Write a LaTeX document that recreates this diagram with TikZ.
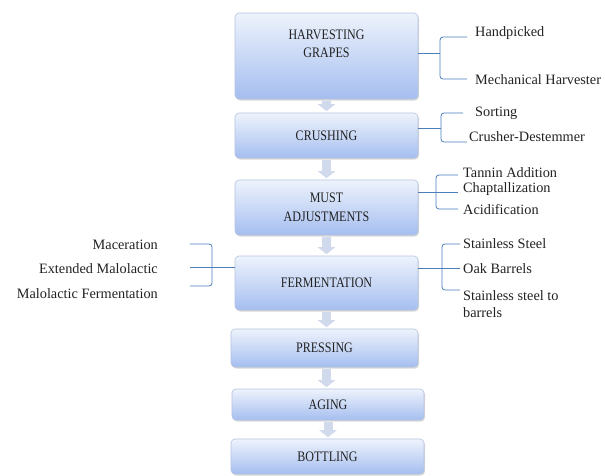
\documentclass[tikz,border=0pt]{standalone}
\usepackage{fontspec}
\setmainfont{Liberation Serif}
\newfontfamily\boxfont[FakeStretch=0.83]{Liberation Serif}
\usetikzlibrary{shadows,arrows.meta}
\definecolor{boxtop}{HTML}{EEF3FC}
\definecolor{boxbot}{HTML}{A5BEF0}
\definecolor{boxline}{HTML}{B4C3DE}
\definecolor{brline}{HTML}{4A7EBB}
\definecolor{arrfill}{HTML}{D0DAEC}
\definecolor{txt}{HTML}{222222}
\begin{document}
\begin{tikzpicture}[x=1pt,y=-1pt,
  stage/.style={rectangle, rounded corners=4pt, draw=boxline, line width=0.6pt,
    top color=boxtop, bottom color=boxbot,
    drop shadow={shadow xshift=1pt, shadow yshift=-1.5pt, opacity=0.3, fill=gray},
    font=\boxfont\fontsize{14.5}{18.5}\selectfont, text=txt, align=center, inner sep=0pt},
  stagetext/.style={font=\boxfont\fontsize{14.5}{18.5}\selectfont, text=txt, align=center, inner sep=0pt},
  lab/.style={font=\fontsize{14.3}{17}\selectfont, text=txt, inner sep=0pt, align=left},
  br/.style={draw=brline, line width=0.8pt, rounded corners=3pt},
  flow/.style={draw=arrfill, line width=9pt, -{Triangle[width=17pt,length=7pt]},
    shorten <=2pt, shorten >=1.5pt}]
\useasboundingbox (0,0) rectangle (605,475);
\fill[white] (0,0) rectangle (605,475);

% stages
\node[stage, minimum width=183pt, minimum height=86pt] (h) at (326.5,56) {};
\node[stagetext] (ht) at (326.5,44) {HARVESTING\\GRAPES};
\node[stage, minimum width=183pt, minimum height=45pt] (c) at (326.5,135.5) {CRUSHING};
\node[stage, minimum width=183pt, minimum height=55pt] (m) at (326.5,207.5) {MUST\\ADJUSTMENTS};
\node[stage, minimum width=183pt, minimum height=54pt] (f) at (326.5,283) {FERMENTATION};
\node[stage, minimum width=187pt, minimum height=38pt] (p) at (324.5,348) {PRESSING};
\node[stage, minimum width=192pt, minimum height=31pt] (a) at (328,404.5) {AGING};
\node[stage, minimum width=193pt, minimum height=35pt] (b) at (327.5,456.5) {BOTTLING};

% flow arrows
\draw[flow] (h.south) -- (h.south |- c.north);
\draw[flow] (c.south) -- (c.south |- m.north);
\draw[flow] (m.south) -- (m.south |- f.north);
\draw[flow] (f.south) -- (f.south |- p.north);
\draw[flow] ([xshift=2pt]p.south) -- ([xshift=2pt]p.south |- a.north);
\draw[flow] (a.south) -- (a.south |- b.north);

% right labels
\node[lab, anchor=west] (hp) at (475,33) {Handpicked};
\node[lab, anchor=west] (mh) at (475,80) {Mechanical Harvester};
\node[lab, anchor=west] (so) at (475,113) {Sorting};
\node[lab, anchor=west] (cd) at (469,137) {Crusher-Destemmer};
\node[lab, anchor=west] (ta) at (463,173) {Tannin Addition};
\node[lab, anchor=west] (chp) at (463,189) {Chaptallization};
\node[lab, anchor=west] (ac) at (463,210) {Acidification};
\node[lab, anchor=west] (ss) at (463,244) {Stainless Steel};
\node[lab, anchor=west] (ob) at (463,269) {Oak Barrels};
\node[lab, anchor=west] (sb) at (463,304.5) {Stainless steel to\\barrels};

% left labels
\node[lab, anchor=east] (mc) at (158,245) {Maceration};
\node[lab, anchor=east] (em) at (158,269) {Extended Malolactic};
\node[lab, anchor=east] (mf) at (158,294) {Malolactic Fermentation};

% brackets
\coordinate (h1) at (440,53);
\draw[br] (h.east |- h1) -- (h1);
\draw[br] (467,37) -- (440,37) -- (440,79) -- (467,79);

\coordinate (c1) at (441,128);
\draw[br] (c.east |- c1) -- (c1);
\draw[br] (463,113) -- (441,113) -- (441,142) -- (467,142);

\coordinate (m1) at (458,192);
\draw[br] (m.east |- m1) -- (m1);
\draw[br] (458,175) -- (436,175) -- (436,209) -- (458,209);

\coordinate (f1) at (460,268);
\draw[br] (f.east |- f1) -- (f1);
\draw[br] (460,244) -- (442,244) -- (442,290) -- (460,290);

\coordinate (f2) at (190,267);
\draw[br] (f.west |- f2) -- (f2);
\draw[br] (190,244) -- (212,244) -- (212,286) -- (190,286);
\end{tikzpicture}
\end{document}
